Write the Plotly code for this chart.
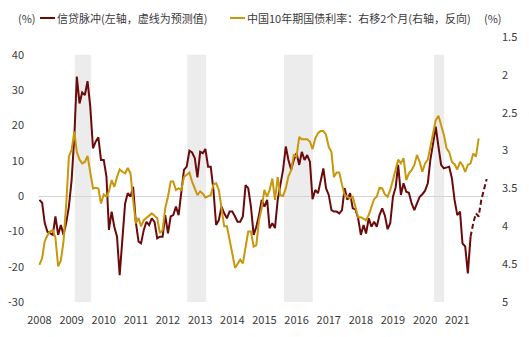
import pandas as pd
import plotly.graph_objects as go

# ---- data (monthly, from Jan 2008) ----
credit_impulse = [
    -1.1, -1.9, -7.6, -10.1, -10.5, -11.0, -5.8, -11.0, -8.2, -11.0,
    -7.5, -3.0, 4.5, 16.8, 33.8, 26.2, 29.3, 28.6, 32.5, 25.3,
    13.5, 15.4, 16.6, 10.2, 10.2, 5.5, -9.6, -4.4, -8.7, -11.5,
    -22.4, -11.5, -2.1, 0.8, -0.2, 2.6, -7.5, -12.9, -13.4, -9.6,
    -7.3, -8.2, -6.3, -7.3, -12.0, -11.5, -11.5, -5.4, -10.6, -5.8,
    -5.4, -3.0, -5.4, 1.2, 7.4, 8.3, 12.8, 12.3, 10.7, 5.3,
    12.5, 12.1, 13.3, 8.3, 8.3, 1.7, -8.2, -6.8, -3.0, -4.9,
    -6.3, -4.4, -4.4, -5.8, -7.3, -7.3, -5.8, 3.1, 2.2, -3.0,
    -11.0, -8.7, -5.4, -1.1, -3.0, -1.1, -9.1, -7.7, -9.1, -1.1,
    3.1, 7.4, 14.0, 10.2, 7.4, 10.2, 12.1, 8.8, 12.5, 10.2,
    11.6, 9.7, -0.9, 1.7, 0.8, 4.5, 7.8, 2.2, 0.3, -4.0,
    -4.4, -4.4, -4.9, -4.0, 2.2, -1.1, 0.8, -3.5, -3.8, -6.3,
    -11.0, -8.2, -10.6, -6.3, -8.7, -7.3, -8.7, -5.4, -3.5, -5.5,
    -9.4, -7.7, -0.2, 2.5, 8.8, 0.3, 3.6, 1.2, 0.9, -2.1,
    -4.0, -2.1, -0.2, 0.5, 1.5, 3.6, 10.2, 14.9, 19.6, 14.0,
    8.8, 7.8, 8.0, 8.3, 5.0, -1.1, -5.4, -4.4, -13.4, -14.3,
    -21.9, -11.5, -7.7, -4.9, -5.8, -1.1, 2.0, 4.8,
]
n_actual = 162  # Jan 2008 .. Jun 2021 are actual, rest forecast

bond_yield_shifted = [
    4.51, 4.42, 4.20, 4.12, 4.07, 4.05, 4.15, 4.53, 4.45, 4.20,
    3.70, 3.08, 2.99, 2.75, 3.02, 3.12, 3.17, 3.15, 3.07, 3.26,
    3.50, 3.49, 3.50, 3.70, 3.58, 3.61, 3.54, 3.39, 3.48, 3.35,
    3.25, 3.28, 3.30, 3.23, 3.30, 3.65, 3.96, 3.89, 4.00, 3.92,
    3.89, 3.86, 3.83, 3.86, 3.89, 4.09, 4.05, 3.76, 3.61, 3.41,
    3.41, 3.52, 3.50, 3.52, 3.35, 3.32, 3.29, 3.41, 3.50, 3.59,
    3.54, 3.57, 3.62, 3.60, 3.59, 3.45, 3.43, 3.52, 3.78, 4.00,
    4.00, 4.16, 4.36, 4.55, 4.49, 4.44, 4.49, 4.27, 4.07, 4.07,
    4.27, 4.25, 3.92, 3.76, 3.52, 3.61, 3.52, 3.37, 3.65, 3.35,
    3.59, 3.60, 3.50, 3.34, 3.26, 3.06, 3.08, 2.82, 2.85, 2.85,
    2.85, 2.88, 2.98, 2.84, 2.77, 2.74, 2.74, 2.79, 2.95, 3.02,
    3.35, 3.29, 3.29, 3.45, 3.59, 3.61, 3.63, 3.61, 3.74, 3.88,
    3.88, 3.90, 3.92, 3.85, 3.73, 3.64, 3.61, 3.49, 3.50, 3.58,
    3.61, 3.52, 3.39, 3.23, 3.12, 3.17, 3.10, 3.39, 3.30, 3.26,
    3.19, 3.06, 3.15, 3.28, 3.17, 3.12, 2.95, 2.77, 2.60, 2.54,
    2.66, 2.79, 2.97, 3.02, 3.15, 3.18, 3.25, 3.15, 3.19, 3.28,
    3.19, 3.17, 3.04, 3.08, 2.84,
]

shade_periods = [
    ("2009-02-05", "2009-08-10"),
    ("2012-08-08", "2013-03-10"),
    ("2015-08-12", "2016-07-04"),
    ("2020-04-10", "2020-08-05"),
]

years = list(range(2008, 2022))
left_ticks = [-30, -20, -10, 0, 10, 20, 30, 40]
left_labels = ["-30", "-20", "-10", "0", "10", "20", "30", "40"]
right_ticks = [1.5, 2, 2.5, 3, 3.5, 4, 4.5, 5]
right_labels = ["1.5", "2", "2.5", "3", "3.5", "4", "4.5", "5"]

legend_red = "信贷脉冲(左轴，虚线为预测值)"
legend_gold = "中国10年期国债利率：右移2个月(右轴，反向)"

# ---- figure ----
dates_red = pd.date_range("2008-01-01", periods=len(credit_impulse), freq="MS")
dates_gold = pd.date_range("2008-01-01", periods=len(bond_yield_shifted), freq="MS")

RED = "#6B0A0A"
GOLD = "#C9970C"
FONT = "Noto Sans CJK SC"
TXT = "#3a3a3a"

fig = go.Figure()
fig.add_trace(go.Scatter(
    x=dates_gold, y=bond_yield_shifted, yaxis="y2", mode="lines",
    line=dict(color=GOLD, width=2), showlegend=False))
fig.add_trace(go.Scatter(
    x=dates_red[:n_actual], y=credit_impulse[:n_actual], mode="lines",
    line=dict(color=RED, width=2), showlegend=False))
fig.add_trace(go.Scatter(
    x=dates_red[n_actual - 1:], y=credit_impulse[n_actual - 1:], mode="lines",
    line=dict(color=RED, width=2, dash="5px,3px"), showlegend=False))

shapes = []
for a, b in shade_periods:
    shapes.append(dict(type="rect", xref="x", yref="y", x0=a, x1=b, y0=-30, y1=40,
                       fillcolor="#ECECEC", line=dict(width=0), layer="below"))

# plot area geometry in pixels
L, R, T, B = 38, 488, 37, 302
W, H = R - L, B - T
def px(x):
    return (x - L) / W
def py(y):
    return (B - y) / H

leg_y = 18
shapes.append(dict(type="line", xref="paper", yref="paper", x0=px(40), x1=px(55),
                   y0=py(leg_y), y1=py(leg_y), line=dict(color=RED, width=2)))
shapes.append(dict(type="line", xref="paper", yref="paper", x0=px(230), x1=px(245),
                   y0=py(leg_y), y1=py(leg_y), line=dict(color=GOLD, width=2)))

ann = []
def add_text(x, text):
    ann.append(dict(xref="paper", yref="paper", x=px(x), y=py(leg_y), text=text,
                    showarrow=False, xanchor="left", yanchor="middle",
                    font=dict(family=FONT, size=11, color=TXT)))
add_text(16, "(%)")
add_text(55, legend_red)
add_text(245, legend_gold)
add_text(482, "(%)")

fig.update_layout(
    width=529, height=337,
    margin=dict(l=L, r=529 - R, t=T, b=337 - B, autoexpand=False),
    paper_bgcolor="white", plot_bgcolor="white",
    font=dict(family=FONT, size=11, color=TXT),
    showlegend=False,
    shapes=shapes, annotations=ann,
    xaxis=dict(type="date", range=["2007-12-16", "2021-12-16"],
               tickvals=[f"{y}-01-01" for y in years], ticktext=[str(y) for y in years],
               showgrid=False, zeroline=False, showline=False, ticks="",
               automargin=False,
               ticklabelstandoff=10, tickfont=dict(size=11, color=TXT)),
    yaxis=dict(range=[-30, 45], tickvals=left_ticks, ticktext=left_labels,
               showgrid=False, automargin=False,
               zeroline=True, zerolinecolor="#D4D4D4", zerolinewidth=1,
               showline=False, ticks="", ticklabelstandoff=13,
               tickfont=dict(size=11, color=TXT)),
    yaxis2=dict(range=[5, 1.5], tickvals=right_ticks, ticktext=right_labels,
                overlaying="y", side="right", automargin=False,
                showgrid=False, zeroline=False, showline=False, ticks="",
                ticklabelstandoff=13, tickfont=dict(size=11, color=TXT)),
)

fig.write_html("out.html")
